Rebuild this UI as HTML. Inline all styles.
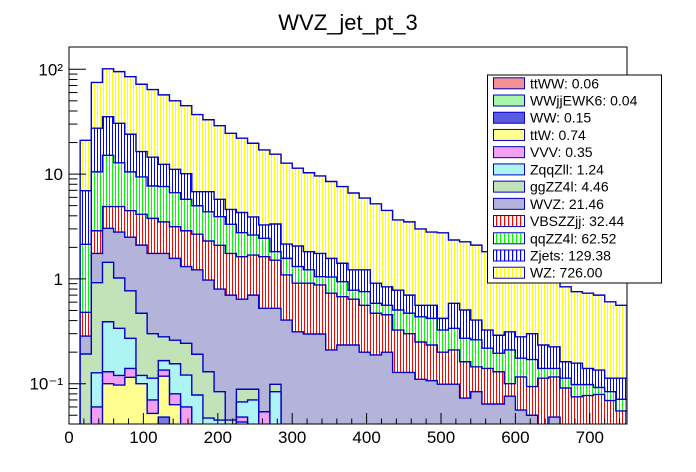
<!DOCTYPE html>
<html><head><meta charset="utf-8"><style>
html,body{margin:0;padding:0;background:#fff;}
svg{display:block;font-family:"Liberation Sans",Arial,sans-serif;}
</style></head><body>
<svg id="chart" width="696" height="472" viewBox="0 0 696 472">
<defs>
<pattern id="pY" patternUnits="userSpaceOnUse" width="3" height="10"><rect width="3" height="10" fill="#fff"/><rect x="1" width="1" height="10" fill="#ffff00"/></pattern>
<pattern id="pB" patternUnits="userSpaceOnUse" width="3" height="10"><rect width="3" height="10" fill="#fff"/><rect x="1" width="1" height="10" fill="#0000ff"/></pattern>
<pattern id="pG" patternUnits="userSpaceOnUse" width="3" height="10"><rect width="3" height="10" fill="#fff"/><rect x="1" width="1" height="10" fill="#00ff00"/></pattern>
<pattern id="pR" patternUnits="userSpaceOnUse" width="3" height="10"><rect width="3" height="10" fill="#fff"/><rect x="1" width="1" height="10" fill="#ff0000"/></pattern>
<clipPath id="frameClip"><rect x="69" y="47" width="558" height="377"/></clipPath>
</defs>
<text x="348" y="30" text-anchor="middle" font-size="22">WVZ_jet_pt_3</text>
<rect x="69" y="47" width="558" height="377" fill="#fff"/>
<g id="bars" clip-path="url(#frameClip)"></g>
<rect x="69" y="47" width="558" height="377" fill="none" stroke="#000" stroke-width="1"/>
<g id="axes"></g>
<g id="legend"></g>
</svg>
<script>
// bin edges: 50 bins of 15 GeV; arrays are stacked heights (cumulative tops) per layer
const binWidth = 15;
const wzStack = [0,21,75,101,95,85,72,64,57,50,45,37,33,29,24.5,22,19.7,17,15.5,12.7,11.4,10.3,9.6,8.5,7.6,6.6,5.9,5.2,4.5,3.65,3.5,3.0,2.8,2.75,2.35,2.26,2.1,1.82,1.75,1.58,1.45,1.27,1.09,0.975,0.84,0.755,0.73,0.70,0.605,0.56];
const zjetsStack = [0,6.95,27.4,35.3,30.5,24,16.4,14.5,12.4,11.1,10.1,6.8,6.8,5.75,4.6,4.3,3.9,3.27,3.34,2.15,2.06,1.82,1.75,1.57,1.41,1.22,1.22,0.91,0.84,0.78,0.70,0.56,0.56,0.42,0.585,0.505,0.405,0.325,0.29,0.313,0.28,0.30,0.234,0.225,0.162,0.157,0.14,0.135,0.113,0.113];
const qqzzStack = [0,2.14,10.5,15.1,12.8,10.5,9.4,7.7,7.6,6.65,5.75,4.99,4.37,3.92,3.32,2.76,2.62,2.44,1.82,1.57,1.31,1.22,1.05,1.04,0.94,0.78,0.755,0.585,0.56,0.505,0.47,0.435,0.42,0.325,0.338,0.271,0.262,0.218,0.195,0.21,0.175,0.17,0.14,0.14,0.113,0.098,0.098,0.092,0.084,0.071];
const vbsStack = [0,0.48,2.88,4.9,4.9,4.48,4.13,3.78,3.5,3.15,2.88,2.67,2.3,2.09,1.75,1.63,1.69,1.63,1.51,1.09,0.91,0.91,0.875,0.73,0.676,0.64,0.56,0.47,0.455,0.325,0.30,0.25,0.234,0.2,0.21,0.162,0.145,0.14,0.13,0.1,0.116,0.094,0.113,0.116,0.091,0.075,0.077,0.079,0.069,0.055];
const wvzStack = [0,0.285,1.75,3.04,2.8,2.5,2.1,1.75,1.75,1.57,1.31,1.22,0.975,0.8,0.7,0.64,0.7,0.524,0.524,0.405,0.313,0.298,0.298,0.21,0.234,0.234,0.2,0.188,0.2,0.128,0.128,0.11,0.107,0.099,0.099,0.073,0.084,0.064,0.064,0.076,0.056,0.05,0.03,0.048,0.03,0.03,0.03,0.03,0.03,0.03];
const ggzzStack = [0,0.192,0.92,1.44,1.02,0.77,0.47,0.30,0.28,0.26,0.243,0.191,0.130,0.084,0.045,0.0885,0.0885,0.05,0.0987,0.03,0.03,0,0,0,0,0,0,0,0,0,0,0,0,0,0,0,0,0,0,0,0,0,0,0,0,0,0,0,0,0];
const zqqzllStack = [0,0.03,0.127,0.39,0.338,0.271,0.12,0.113,0.166,0.155,0.121,0.078,0.047,0.045,0.03,0.067,0.07,0.05,0.084,0.03,0.03,0,0,0,0,0,0,0,0,0,0,0,0,0,0,0,0,0,0,0,0,0,0,0,0,0,0,0,0,0];
const vvvStack = [0,0.03,0.06,0.13,0.12,0.14,0.1,0.07,0.135,0.08,0.06,0.03,0.03,0.03,0.03,0.048,0.03,0.054,0.03,0.03,0.03,0,0,0,0,0,0,0,0,0,0,0,0,0,0,0,0,0,0,0,0,0,0,0,0,0,0,0,0,0];
const ttwStack = [0,0,0,0.1,0.097,0.115,0.1,0.052,0.118,0.063,0,0,0,0,0,0.043,0,0,0,0,0,0,0,0,0,0,0,0,0,0,0,0,0,0,0,0,0,0,0,0,0,0,0,0,0,0,0,0,0,0];
const wwStack = [0,0,0,0,0,0,0,0,0.048,0,0,0,0,0,0,0,0,0,0,0,0,0,0,0,0,0,0,0,0,0,0,0,0,0,0,0,0,0,0,0,0,0,0,0,0,0,0,0,0,0];
const xTicks = [0,100,200,300,400,500,600,700];
const yTicks = [0.1,1,10,100];
const yTickLabels = ["10\u207B\u00B9","1","10","10\u00B2"];
const legendLabels = ["ttWW: 0.06","WWjjEWK6: 0.04","WW: 0.15","ttW: 0.74","VVV: 0.35","ZqqZll: 1.24","ggZZ4l: 4.46","WVZ: 21.46","VBSZZjj: 32.44","qqZZ4l: 62.52","Zjets: 129.38","WZ: 726.00"];

const NS = "http://www.w3.org/2000/svg";
const X0 = 69, X1 = 627, Y0 = 47, YB = 424;
function xs(v){ return X0 + v * (X1 - X0) / 750; }
function ys(v){ if (v <= 0) return YB + 5; const y = 383.7 - 104.8 * (Math.log10(v) + 1); return Math.min(y, YB + 5); }
function mk(tag, attrs){ const e = document.createElementNS(NS, tag); for (const k in attrs) e.setAttribute(k, attrs[k]); return e; }

const layers = [
  {vals: wzStack, fill: "url(#pY)", name: "wz-series"},
  {vals: zjetsStack, fill: "url(#pB)", name: "zjets-series"},
  {vals: qqzzStack, fill: "url(#pG)", name: "qqzz4l-series"},
  {vals: vbsStack, fill: "url(#pR)", name: "vbszzjj-series"},
  {vals: wvzStack, fill: "#b4b4da", name: "wvz-series"},
  {vals: ggzzStack, fill: "#c2e2b8", name: "ggzz4l-series"},
  {vals: zqqzllStack, fill: "#aef4f4", name: "zqqzll-series"},
  {vals: vvvStack, fill: "#f2a0f2", name: "vvv-series"},
  {vals: ttwStack, fill: "#ffff90", name: "ttw-series"},
  {vals: wwStack, fill: "#7878e8", name: "ww-series"}
];
const bars = document.getElementById("bars");
layers.forEach(L => {
  let d = "M" + xs(0) + "," + (YB + 5);
  L.vals.forEach((v, i) => {
    const y = ys(v);
    d += " L" + xs(i * binWidth).toFixed(2) + "," + y.toFixed(2) + " L" + xs((i + 1) * binWidth).toFixed(2) + "," + y.toFixed(2);
  });
  d += " L" + xs(750) + "," + (YB + 5) + " Z";
  const p = mk("path", {d: d, fill: L.fill, stroke: "#0000cc", "stroke-width": "1.4"});
  
  
  bars.appendChild(p);
});

const axes = document.getElementById("axes");
for (let v = 0; v <= 750; v += 20) {
  const major = v % 100 === 0;
  const t = mk("line", {x1: xs(v), x2: xs(v), y1: YB, y2: YB - (major ? 11 : 5.5), stroke: "#000", "stroke-width": "1"});
  
  
  axes.appendChild(t);
}
xTicks.forEach(v => {
  const t = mk("text", {x: xs(v), y: 443, "text-anchor": "middle", "font-size": "17"});
  t.textContent = String(v);
  
  
  axes.appendChild(t);
});
[0.01,0.1,1,10,100].forEach(dec => {
  for (let m = 1; m <= 9; m++) {
    const v = dec * m;
    const y = ys(v);
    if (y < Y0 || y > YB) continue;
    const t = mk("line", {x1: X0, x2: X0 + (m === 1 ? 17 : 8.5), y1: y, y2: y, stroke: "#000", "stroke-width": "1"});
    
    
    axes.appendChild(t);
  }
});
yTicks.forEach((v, i) => {
  const t = mk("text", {x: 63, y: ys(v) + 6, "text-anchor": "end", "font-size": "17"});
  t.textContent = yTickLabels[i];
  
  
  axes.appendChild(t);
});

const legendFills = ["#f49090","#a8f4a8","#5a5ae0","#ffff90","#f2a0f2","#aef4f4","#c2e2b8","#b4b4da",null,null,null,null];
const swatchStripe = [null,null,null,null,null,null,null,null,"#ff0000","#00ff00","#0000ff","#ffff00"];
const leg = document.getElementById("legend");
const box = mk("rect", {x: 487.5, y: 75, width: 174, height: 208, fill: "#fff", stroke: "#000", "stroke-width": "1"});


leg.appendChild(box);
legendLabels.forEach((lab, i) => {
  const cy = 83.3 + i * 17.22;
  const g = mk("g", {});
  
  
  const sw = mk("rect", {x: 493.5, y: cy - 5.5, width: 31, height: 11, fill: "#fff", stroke: "#0000cc", "stroke-width": "1"});
  g.appendChild(sw);
  if (swatchStripe[i]) {
    for (let x = 496; x < 524; x += 4) {
      g.appendChild(mk("rect", {x: x, y: cy - 5, width: 1.2, height: 10, fill: swatchStripe[i]}));
    }
  } else {
    sw.setAttribute("fill", legendFills[i]);
  }
  const t = mk("text", {x: 530, y: cy + 5, "font-size": "14"});
  t.textContent = lab;
  g.appendChild(t);
  leg.appendChild(g);
});
</script>
</body></html>
